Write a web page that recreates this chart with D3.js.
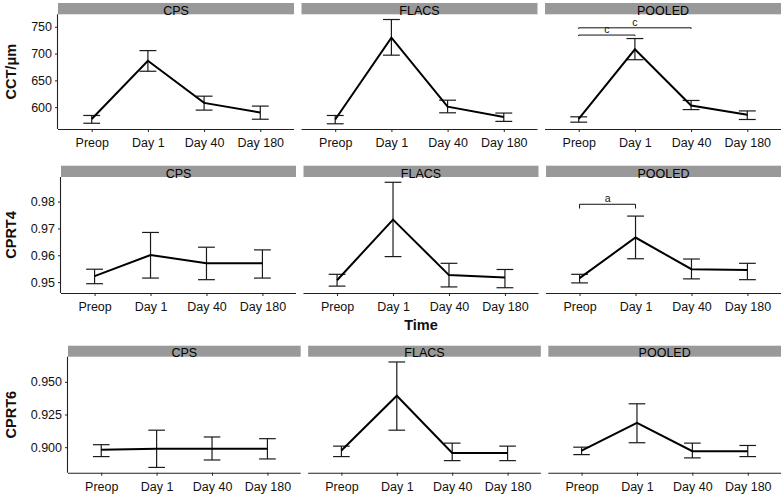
<!DOCTYPE html>
<html><head><meta charset="utf-8">
<script src="https://cdn.jsdelivr.net/npm/d3@7"></script>
<style>
html,body{margin:0;padding:0;background:#fff;}
svg{display:block;font-family:"Liberation Sans",Arial,sans-serif;}
</style></head>
<body><svg id="c" width="784" height="496"></svg>
<script>
const times = ["Preop","Day 1","Day 40","Day 180"];
const groups = ["CPS","FLACS","POOLED"];

// CCT (µm): rows = CPS, FLACS, POOLED
const cctMean = [[578,686.5,608,590],[577,729.5,601,581.5],[578,708,603,586]];
const cctLo   = [[570,667,594.5,577.5],[569,697,589.5,573.5],[572,688.5,595.5,577]];
const cctHi   = [[584.5,705.5,620.5,602],[584.5,763.5,613,589],[582,728,612.5,593]];
const cctTicks = [600,650,700,750];

// CPRT4
const cprt4Mean = [[0.9522,0.9601,0.9570,0.9570],[0.9507,0.9733,0.9526,0.9517],[0.9515,0.9666,0.9548,0.9545]];
const cprt4Lo   = [[0.9494,0.9515,0.9509,0.9515],[0.9485,0.9595,0.9482,0.9479],[0.9497,0.9587,0.9512,0.9509]];
const cprt4Hi   = [[0.9548,0.9685,0.9630,0.9620],[0.9529,0.9872,0.9570,0.9547],[0.9529,0.9746,0.9586,0.9570]];
const cprt4Ticks = [0.95,0.96,0.97,0.98];

// CPRT6
const cprt6Mean = [[0.8980,0.8988,0.8988,0.8988],[0.8974,0.9394,0.8956,0.8956],[0.8974,0.9186,0.8969,0.8969]];
const cprt6Lo   = [[0.8928,0.8845,0.8902,0.8910],[0.8928,0.9130,0.8897,0.8897],[0.8943,0.9034,0.8918,0.8928]];
const cprt6Hi   = [[0.9019,0.9130,0.9078,0.9065],[0.9008,0.9652,0.9031,0.9008],[0.9000,0.9332,0.9031,0.9013]];
const cprt6Ticks = [0.900,0.925,0.950];

// significance brackets (in POOLED panel): [from, to, y, tipY, label]
const cctBrackets = [["Preop","Day 1",734.5,732.5,"c"],["Preop","Day 40",748,746,"c"]];
const cprt4Brackets = [["Preop","Day 1",0.9790,0.9774,"a"]];
const cprt6Brackets = [];

const rows = [
  {title:"CCT/μm", mean:cctMean, lo:cctLo, hi:cctHi, ticks:cctTicks, fmt:d3.format("d"), br:cctBrackets,
   left:58, stripTop:3, panelTop:14.3, panelBottom:129, xTitle:null},
  {title:"CPRT4", mean:cprt4Mean, lo:cprt4Lo, hi:cprt4Hi, ticks:cprt4Ticks, fmt:d3.format(".2f"), br:cprt4Brackets,
   left:61, stripTop:165.7, panelTop:177, panelBottom:293, xTitle:"Time"},
  {title:"CPRT6", mean:cprt6Mean, lo:cprt6Lo, hi:cprt6Hi, ticks:cprt6Ticks, fmt:d3.format(".3f"), br:cprt6Brackets,
   left:68, stripTop:345.7, panelTop:356.7, panelBottom:472.7, xTitle:null}
];

const svg = d3.select("#c");
const right = 781, gap = 7.5;
const textCol = "#111";
const tickFont = 12.5;

rows.forEach(row => {
  const w = (right - row.left - 2*gap)/3;
  const allLo = d3.min(row.lo.flat());
  const allHi = d3.max([...row.hi.flat(), ...row.br.map(b=>b[2])]);
  const ext = (allHi - allLo)*0.05;
  const y = d3.scaleLinear().domain([allLo-ext, allHi+ext]).range([row.panelBottom, row.panelTop]);

  groups.forEach((g, gi) => {
    const x0 = row.left + gi*(w+gap);
    const x = d3.scalePoint().domain(times).range([x0, x0+w]).padding(0.6);
    const step = x.step();
    const capW = step*0.3;

    // strip
    svg.append("rect").attr("x",x0).attr("y",row.stripTop).attr("width",w)
      .attr("height",row.panelTop-row.stripTop).attr("fill","#999999");
    svg.append("text").attr("x",x0+w/2).attr("y",row.panelTop+0.5)
      .attr("text-anchor","middle").attr("font-size",12.5).attr("fill","#000").text(g);

    // x axis
    const xa = svg.append("g").attr("transform",`translate(0,${row.panelBottom})`)
      .call(d3.axisBottom(x).tickSize(3).tickPadding(6));
    xa.select(".domain").attr("d",`M${x0},0.5H${x0+w}`).attr("stroke","#222").attr("stroke-width",1.1);
    xa.selectAll(".tick line").attr("stroke","#222");
    xa.selectAll("text").attr("font-size",tickFont).attr("fill",textCol).attr("font-family","Liberation Sans, Arial, sans-serif");

    if (gi === 0) {
      const ya = svg.append("g").attr("transform",`translate(${x0},0)`)
        .call(d3.axisLeft(y).tickValues(row.ticks).tickFormat(row.fmt).tickSize(3).tickPadding(3));
      ya.select(".domain").attr("d",`M-0.5,${row.panelTop}V${row.panelBottom}`).attr("stroke","#222").attr("stroke-width",1.1);
      ya.selectAll(".tick line").attr("stroke","#222");
      ya.selectAll("text").attr("font-size",tickFont).attr("fill",textCol).attr("font-family","Liberation Sans, Arial, sans-serif");
    }

    const pts = times.map((t,i)=>({t, m:row.mean[gi][i], lo:row.lo[gi][i], hi:row.hi[gi][i]}));

    // error bars
    const eb = svg.append("g").attr("stroke","#1a1a1a").attr("stroke-width",1.2).attr("fill","none");
    pts.forEach(p => {
      const cx = x(p.t);
      eb.append("line").attr("x1",cx).attr("x2",cx).attr("y1",y(p.lo)).attr("y2",y(p.hi));
      eb.append("line").attr("x1",cx-capW/2).attr("x2",cx+capW/2).attr("y1",y(p.lo)).attr("y2",y(p.lo));
      eb.append("line").attr("x1",cx-capW/2).attr("x2",cx+capW/2).attr("y1",y(p.hi)).attr("y2",y(p.hi));
    });

    // mean line
    svg.append("path").datum(pts)
      .attr("d", d3.line().x(p=>x(p.t)).y(p=>y(p.m)))
      .attr("fill","none").attr("stroke","#000").attr("stroke-width",2).attr("stroke-linejoin","miter");

    // brackets
    if (g === "POOLED") {
      row.br.forEach(b => {
        const xa1 = x(b[0]), xa2 = x(b[1]);
        svg.append("path")
          .attr("d",`M${xa1},${y(b[3])}V${y(b[2])}H${xa2}V${y(b[3])}`)
          .attr("fill","none").attr("stroke","#111").attr("stroke-width",1);
        svg.append("text").attr("x",(xa1+xa2)/2).attr("y",y(b[2])-2)
          .attr("text-anchor","middle").attr("font-size",10.5).attr("fill","#111").text(b[4]);
      });
    }
  });

  // y title
  const cy = (row.panelTop+row.panelBottom)/2;
  svg.append("text").attr("transform",`translate(15.5,${cy}) rotate(-90)`)
    .attr("text-anchor","middle").attr("font-size",14.5).attr("font-weight","bold").attr("fill","#111").text(row.title);

  if (row.xTitle) {
    svg.append("text").attr("x",(row.left+right)/2).attr("y",row.panelBottom+37)
      .attr("text-anchor","middle").attr("font-size",14.5).attr("font-weight","bold").attr("fill","#111").text(row.xTitle);
  }
});
</script>
</body></html>
